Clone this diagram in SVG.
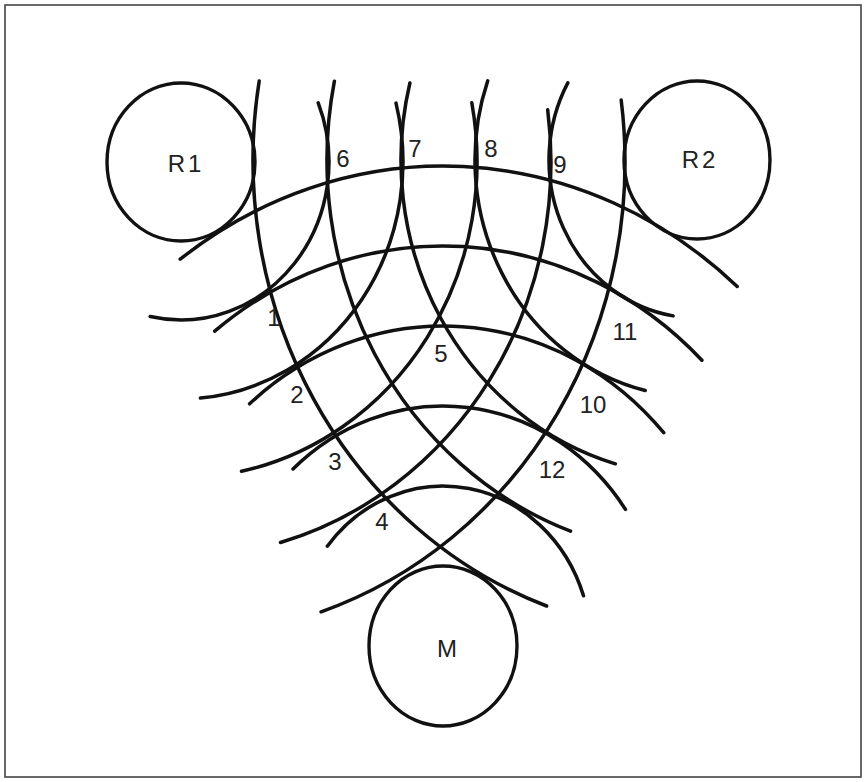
<svg xmlns="http://www.w3.org/2000/svg" width="866" height="782" viewBox="0 0 866 782">
<style>
.arc{fill:none;stroke:#111;stroke-width:3.5;stroke-linecap:round}
.node{fill:none;stroke:#111;stroke-width:3.4}
.lbl{font-family:"Liberation Sans",Arial,sans-serif;font-size:24px;fill:#222;text-anchor:middle}
.nlbl{font-family:"Liberation Sans",Arial,sans-serif;font-size:24px;fill:#222;text-anchor:middle;letter-spacing:3px}
</style>
<rect x="0" y="0" width="866" height="782" fill="#fff"/>
<rect x="5" y="5" width="856" height="772" fill="none" stroke="#444" stroke-width="1.6"/>
<g id="connectors">
<g id="r1-fronts">
<path class="arc" d="M318.2,102.8 A148,158 0 0 1 150.2,316.5"/>
<path class="arc" d="M396.0,103.1 A222,237 0 0 1 200.4,398.1"/>
<path class="arc" d="M471.8,102.8 A296,316 0 0 1 241.5,471.3"/>
<path class="arc" d="M547.7,109.7 A370,395 0 0 1 280.5,542.5"/>
<path class="arc" d="M621.2,100.1 A444,474 0 0 1 321.1,611.8"/>
</g>
<g id="r2-fronts">
<path class="arc" d="M567.8,82.9 A148,158 0 0 0 673.1,315.9"/>
<path class="arc" d="M487.7,80.9 A222,237 0 0 0 645.2,390.5"/>
<path class="arc" d="M409.9,83.0 A296,316 0 0 0 615.4,463.8"/>
<path class="arc" d="M334.4,81.2 A370,395 0 0 0 570.5,531.2"/>
<path class="arc" d="M259.2,80.9 A444,474 0 0 0 546.6,606.0"/>
</g>
<g id="m-fronts">
<path class="arc" d="M327.3,546.2 A148,160 0 0 1 583.5,595.8"/>
<path class="arc" d="M293.0,469.0 A222,240 0 0 1 625.5,509.4"/>
<path class="arc" d="M249.6,403.8 A296,320 0 0 1 663.7,432.7"/>
<path class="arc" d="M214.7,331.2 A370,400 0 0 1 701.9,360.2"/>
<path class="arc" d="M180.2,259.2 A444,480 0 0 1 737.2,286.5"/>
</g>
</g>
<g id="R1">
<ellipse class="node" cx="181" cy="162" rx="74" ry="79"/>
<text class="nlbl" x="186" y="172">R1</text>
</g>
<g id="R2">
<ellipse class="node" cx="697" cy="160" rx="73" ry="79"/>
<text class="nlbl" x="700" y="168">R2</text>
</g>
<g id="M">
<ellipse class="node" cx="443" cy="646" rx="74" ry="80"/>
<text class="lbl" x="447" y="657">M</text>
</g>
<g id="points">
<text class="lbl" x="274" y="326">1</text>
<text class="lbl" x="297" y="403">2</text>
<text class="lbl" x="335" y="470">3</text>
<text class="lbl" x="382" y="530">4</text>
<text class="lbl" x="441" y="362">5</text>
<text class="lbl" x="343" y="167">6</text>
<text class="lbl" x="415" y="157">7</text>
<text class="lbl" x="491" y="157">8</text>
<text class="lbl" x="560" y="173">9</text>
<text class="lbl" x="593" y="413">10</text>
<text class="lbl" x="625" y="340">11</text>
<text class="lbl" x="552" y="478">12</text>
</g>
</svg>
